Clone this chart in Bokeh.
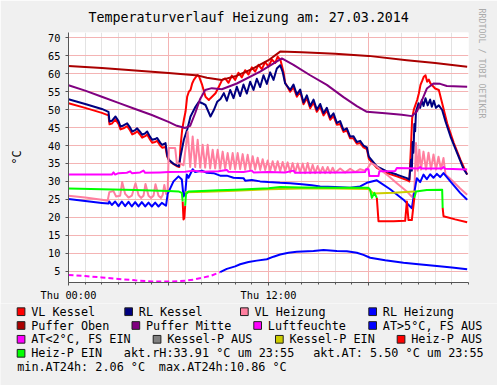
import math
from bokeh.plotting import figure
from bokeh.layouts import column, row
from bokeh.models import Range1d, FixedTicker, Title
from bokeh.core.properties import value
from bokeh.embed import file_html
from bokeh.resources import INLINE

FONT = "'DejaVu Sans Mono', monospace"

# ---------------- data (hours of the day, degrees / %) ----------------
vlk_h = [0, 1.0, 2.0, 2.4, 2.46, 2.6, 2.82, 3.0, 3.12, 3.3, 3.52, 3.7, 3.82, 4.0, 4.12, 4.3, 4.42, 4.6, 4.72, 4.9,
         5.02, 5.2, 5.32, 5.5, 5.62, 5.82, 5.92, 6.02, 6.22, 6.52, 6.65, 6.72, 6.82, 6.92, 7.02, 7.12, 7.22, 7.32,
         7.42, 7.52, 7.72, 7.82, 8.02, 8.22, 8.42, 8.52, 8.82, 9.02, 9.22, 9.4, 9.6, 9.8, 10.0, 10.2, 10.4, 10.6,
         10.8, 11.0, 11.2, 11.4, 11.6, 11.8, 12.0, 12.2, 12.4, 12.55, 12.72, 12.9, 13.0, 13.3, 13.5, 13.7, 13.9,
         14.1, 14.3, 14.5, 14.7, 14.9, 15.1, 15.3, 15.5, 15.7, 15.9, 16.1, 16.3, 16.5, 16.7, 16.9, 17.1, 17.3,
         17.5, 17.7, 17.9, 18.02, 18.5, 19.1, 19.7, 20.3, 20.45, 20.55, 20.62, 20.72, 20.92, 21.02, 21.12, 21.22,
         21.32, 21.42, 21.52, 21.62, 21.72, 22.0, 22.22, 22.42, 22.72, 23.12, 23.52, 23.92]
vlk_v = [51.8, 50.5, 49.1, 48.4, 45.9, 46.1, 47.3, 46.0, 44.5, 44.8, 45.4, 44.2, 43.1, 43.5, 44.0, 43.0, 42.2, 42.6,
         43.1, 41.6, 40.8, 41.0, 41.3, 40.0, 39.4, 39.6, 36.9, 36.0, 35.1, 34.2, 34.0, 39.7, 44.4, 47.1, 49.4, 53.6,
         55.0, 55.5, 57.3, 58.3, 59.6, 59.4, 56.9, 53.6, 52.7, 53.2, 54.6, 56.4, 58.3, 58.7, 57.5, 59.5, 58.3, 60.3,
         59.0, 61.0, 59.8, 61.8, 60.6, 62.5, 61.3, 63.3, 62.0, 64.0, 63.0, 64.8, 63.8, 60.5, 57.5, 55.0, 56.2, 53.6,
         55.0, 51.5, 53.2, 50.4, 52.0, 49.4, 50.8, 48.4, 49.8, 47.2, 48.2, 45.8, 46.0, 43.8, 44.2, 42.0, 42.0, 40.5,
         40.7, 39.5, 39.0, 36.3, 33.8, 32.3, 31.4, 30.4, 30.0, 40.0, 47.6, 50.0, 52.7, 54.5, 56.9, 58.0, 59.2, 59.6,
         57.8, 58.4, 57.3, 55.9, 55.5, 51.8, 46.2, 40.7, 36.0, 31.9]

rlk_h = [0, 1.0, 2.0, 2.4, 2.46, 2.6, 2.82, 3.0, 3.12, 3.3, 3.52, 3.7, 3.82, 4.0, 4.12, 4.3, 4.42, 4.6, 4.72, 4.9,
         5.02, 5.2, 5.32, 5.5, 5.62, 5.75, 5.82, 5.92, 6.02, 6.3, 6.62, 6.72, 6.92, 7.12, 7.32, 7.62, 7.82, 8.02,
         8.22, 8.52, 8.72, 8.92, 9.12, 9.32, 9.5, 9.7, 9.9, 10.1, 10.3, 10.5, 10.7, 10.9, 11.1, 11.3, 11.5, 11.7,
         11.9, 12.1, 12.3, 12.5, 12.7, 12.85, 13.0, 13.3, 13.5, 13.7, 13.9, 14.1, 14.3, 14.5, 14.7, 14.9, 15.1,
         15.3, 15.5, 15.7, 15.9, 16.1, 16.3, 16.5, 16.7, 16.9, 17.1, 17.3, 17.5, 17.7, 17.9, 18.02, 18.5, 19.1,
         19.7, 20.3, 20.45, 20.55, 20.6, 20.65, 20.7, 20.75, 20.8, 20.85, 21.0, 21.1, 21.2, 21.3, 21.42, 21.55,
         21.7, 21.8, 21.92, 22.05, 22.22, 22.42, 22.62, 22.92, 23.32, 23.72, 23.92]
rlk_v = [52.9, 51.6, 50.2, 49.4, 46.7, 46.9, 48.1, 46.8, 45.3, 45.6, 46.2, 45.0, 43.9, 44.3, 44.8, 43.8, 43.0, 43.4,
         43.9, 42.4, 41.6, 41.8, 42.1, 40.8, 40.2, 40.5, 40.7, 37.4, 36.0, 34.9, 34.2, 36.9, 41.6, 44.4, 48.1, 50.8,
         52.2, 51.8, 51.3, 48.1, 49.9, 52.2, 53.0, 54.6, 52.5, 55.5, 53.2, 56.4, 53.8, 57.0, 54.5, 57.8, 55.5, 58.6,
         56.3, 59.6, 57.2, 60.4, 58.3, 61.5, 62.4, 60.5, 57.3, 55.5, 57.0, 54.2, 55.6, 52.0, 54.0, 51.0, 52.8, 50.0,
         51.6, 49.0, 50.5, 47.8, 49.0, 46.3, 46.8, 44.3, 44.8, 42.5, 42.6, 41.0, 41.3, 40.0, 39.5, 36.9, 34.2, 32.8,
         31.9, 30.9, 30.5, 36.0, 33.0, 41.0, 38.0, 46.0, 44.0, 49.5, 51.8, 50.5, 52.7, 51.0, 53.2, 51.2, 52.8, 50.8,
         52.5, 50.5, 51.2, 49.9, 46.7, 42.5, 37.9, 33.3, 31.9]

vlh_h = [0, 1.0, 2.0, 2.35, 2.45, 2.7, 2.85, 3.1, 3.22, 3.4, 3.6, 3.8, 4.02, 4.2, 4.35, 4.5, 4.62, 4.8, 4.95, 5.1,
         5.22, 5.4, 5.55, 5.65, 5.75, 5.85, 5.95, 6.02, 6.4, 6.5, 6.7, 6.9, 7.05, 7.15, 7.3, 7.45, 7.6, 7.75, 7.9,
         8.05, 8.2, 8.35, 8.5, 8.65, 8.8, 8.95, 9.1, 9.25, 9.4, 9.55, 9.7, 9.85, 10.0, 10.15, 10.3, 10.45, 10.6,
         10.75, 10.9, 11.05, 11.2, 11.35, 11.5, 11.65, 11.8, 11.95, 12.1, 12.25, 12.4, 12.55, 12.7, 12.85, 13.0,
         13.15, 13.3, 13.45, 13.6, 13.75, 13.9, 14.05, 14.2, 14.35, 14.5, 14.65, 14.8, 14.95, 15.1, 15.25, 15.4,
         15.55, 15.7, 15.85, 16.0, 16.3, 16.6, 16.9, 17.2, 17.5, 17.8, 17.95, 18.15, 18.4, 18.7, 19.2, 19.7, 20.3,
         20.6, 20.75, 20.85, 20.95, 21.05, 21.15, 21.3, 21.45, 21.6, 21.75, 21.9, 22.05, 22.2, 22.35, 22.5, 22.62,
         23.0, 23.5, 23.92]
vlh_v = [26.0, 25.5, 24.9, 24.6, 27.0, 27.3, 25.8, 26.0, 29.8, 26.5, 25.5, 26.0, 29.5, 26.2, 25.4, 26.0, 29.3, 26.0,
         25.4, 26.0, 29.2, 26.0, 25.4, 26.2, 29.0, 26.5, 27.5, 39.3, 39.3, 35.1, 35.0, 34.5, 40.0, 43.9, 34.0, 42.5,
         34.0, 41.6, 33.8, 40.2, 33.8, 40.2, 33.6, 38.8, 33.6, 38.8, 33.5, 38.3, 33.5, 37.9, 33.4, 37.9, 33.4, 37.9,
         33.4, 37.6, 33.3, 37.4, 33.3, 37.0, 33.3, 36.6, 33.2, 36.2, 33.2, 35.8, 33.0, 35.6, 33.0, 35.6, 32.8, 35.4,
         32.8, 35.3, 32.5, 35.1, 32.5, 35.0, 32.4, 35.0, 32.3, 35.1, 32.3, 34.6, 32.3, 34.3, 32.3, 34.0, 32.3, 34.0,
         32.3, 33.8, 32.4, 33.6, 32.5, 33.5, 32.6, 33.4, 33.0, 33.7, 35.1, 34.5, 33.3, 31.5, 29.5, 27.2, 25.7, 27.0,
         40.7, 33.0, 38.8, 33.3, 38.3, 33.3, 38.0, 33.3, 37.5, 33.3, 36.9, 33.3, 36.5, 31.9, 30.3, 28.0, 26.3]

rlh_h = [0, 1.0, 2.0, 2.4, 2.45, 2.6, 2.8, 3.0, 3.2, 3.4, 3.6, 3.8, 4.0, 4.2, 4.4, 4.6, 4.8, 5.0, 5.2, 5.4, 5.6,
         5.85, 5.95, 6.3, 6.6, 6.8, 6.9, 7.0, 7.1, 7.2, 7.45, 7.6, 8.0, 8.3, 8.7, 9.1, 9.5, 9.9, 10.5, 10.6, 11.0,
         11.5, 12.0, 12.7, 13.3, 14.0, 14.6, 15.1, 16.0, 16.9, 17.5, 17.9, 18.5, 19.3, 20.1, 20.6, 20.75, 20.9,
         21.1, 21.3, 21.5, 21.7, 21.9, 22.1, 22.3, 22.5, 23.0, 23.5, 23.92]
rlh_v = [25.1, 24.5, 24.0, 23.8, 24.4, 23.4, 24.4, 23.1, 24.4, 23.1, 24.3, 23.0, 24.2, 23.0, 24.2, 23.0, 24.1, 23.0,
         24.1, 23.0, 24.0, 23.2, 26.5, 30.0, 31.4, 30.5, 25.8, 26.5, 31.9, 31.0, 33.4, 32.6, 33.0, 32.4, 32.3, 31.6,
         31.6, 31.0, 30.9, 30.2, 30.4, 30.0, 29.8, 29.6, 29.5, 29.2, 28.9, 28.6, 28.4, 28.2, 28.6, 29.6, 30.3, 27.8,
         24.9, 22.5, 27.0, 30.9, 29.8, 31.9, 30.6, 32.0, 31.0, 32.1, 31.2, 32.3, 29.5, 26.8, 24.9]

po_h = [0, 2.0, 4.0, 6.0, 7.8, 8.3, 9.2, 10.0, 11.0, 12.0, 12.7, 14.0, 16.0, 18.0, 20.3, 22.0, 23.92]
po_v = [62.2, 61.6, 60.9, 60.2, 59.5, 58.9, 58.3, 59.3, 61.3, 63.8, 66.2, 66.0, 65.6, 65.0, 63.8, 63.0, 62.0]

pm_h = [0, 1.0, 2.0, 3.0, 4.0, 5.0, 6.0, 6.5, 7.0, 7.3, 7.6, 7.9, 8.2, 8.6, 9.2, 10.1, 11.5, 12.8, 13.5, 14.5,
        15.5, 16.5, 17.3, 17.9, 19.0, 20.0, 20.6, 20.9, 21.2, 21.5, 21.9, 22.3, 22.7, 23.92]
pm_v = [56.8, 55.3, 53.6, 51.9, 50.2, 48.5, 46.6, 45.5, 44.9, 45.5, 49.0, 53.0, 55.5, 56.0, 55.7, 57.3, 60.6, 64.3,
        62.5, 59.6, 56.9, 53.5, 51.0, 49.4, 49.0, 48.6, 48.2, 49.5, 52.5, 55.9, 57.3, 57.2, 56.6, 56.4]

rh_h = [0, 2.6, 2.7, 2.8, 3.0, 3.5, 3.7, 3.8, 4.3, 4.5, 4.6, 5.5, 6.0, 7.0, 7.5, 8.0, 9.0, 9.5, 9.6, 10.5, 11.0,
        11.1, 12.0, 13.0, 13.5, 13.6, 15.0, 16.5, 17.8, 17.85, 18.0, 18.05, 18.6, 18.65, 19.6, 19.7, 21.0, 21.1,
        21.2, 22.4, 22.5, 22.6, 23.92]
rh_v = [31.9, 31.9, 32.5, 31.9, 32.3, 32.4, 32.8, 32.3, 32.5, 33.0, 32.4, 32.5, 32.6, 32.7, 33.0, 32.7, 32.8, 33.2,
        32.7, 32.6, 33.0, 32.5, 32.6, 32.5, 33.0, 32.4, 32.5, 32.5, 32.6, 33.4, 33.4, 31.5, 31.5, 32.8, 32.9, 33.7,
        33.6, 34.0, 33.6, 33.6, 34.0, 33.5, 33.3]

at_lo_h = [0, 1.0, 2.0, 3.0, 4.0, 5.0, 6.1, 7.0, 7.5, 8.0, 8.5, 9.1]
at_lo_v = [3.9, 3.6, 3.2, 2.8, 2.4, 2.1, 2.06, 2.3, 2.6, 3.1, 3.6, 4.7]
at_hi_h = [9.1, 9.5, 10.0, 10.3, 10.8, 11.3, 11.9, 12.3, 12.7, 13.2, 13.7, 14.7, 15.3, 16.1, 16.7, 17.3, 17.7,
           18.1, 19.0, 20.1, 21.0, 22.1, 23.0, 23.92]
at_hi_v = [4.7, 5.6, 6.3, 6.9, 7.5, 7.9, 8.3, 9.0, 9.6, 10.1, 10.4, 10.6, 10.86, 10.6, 10.5, 10.1, 9.5, 8.7, 8.0,
           7.3, 6.9, 6.4, 6.0, 5.5]

kp_ein_h = [7.0, 8.3, 10.0, 12.0, 14.0, 16.0, 18.0, 18.3, 19.5, 20.5, 20.8]
kp_ein_v = [27.0, 27.1, 27.4, 27.8, 28.0, 28.0, 27.9, 26.6, 26.8, 27.1, 27.2]

hp_ein_h = [[0, 2.0, 4.0, 6.0, 6.6, 6.8, 6.85],
            [7.0, 7.05, 7.2, 8.0, 9.0, 10.0, 11.0, 12.0, 12.7, 14.0, 16.0, 18.0, 18.1, 18.2, 18.35, 18.5],
            [20.75, 20.85, 21.5, 22.42, 22.45]]
hp_ein_v = [[28.0, 27.8, 27.6, 27.3, 27.2, 26.8, 24.4],
            [23.2, 26.5, 27.2, 27.3, 27.5, 27.7, 27.9, 28.1, 28.4, 28.3, 28.2, 28.2, 27.7, 25.4, 26.8, 25.4],
            [25.4, 27.2, 27.6, 27.7, 22.6]]
hp_aus_h = [[6.85, 6.9, 6.95, 7.0],
            [18.5, 18.6, 19.5, 20.2, 20.3, 20.4, 20.6, 20.75],
            [22.45, 22.5, 23.2, 23.92]]
hp_aus_v = [[24.4, 19.4, 19.8, 23.2],
            [25.4, 18.9, 18.9, 19.0, 24.4, 19.2, 19.2, 25.4],
            [22.6, 20.3, 19.4, 18.6]]

y_ticks = [5, 10, 15, 20, 25, 30, 35, 40, 45, 50, 55, 60, 65, 70]
x_tick_labels = {0: "Thu 00:00", 6: "", 12: "Thu 12:00", 18: ""}

title_text = "Temperaturverlauf Heizung am: 27.03.2014"
unit_text = "°C"
watermark_text = "RRDTOOL / TOBI OETIKER"

legend_rows = [
    [("VL Kessel", "#ff0000"), ("RL Kessel", "#000080"), ("VL Heizung", "#ff7f9f"), ("RL Heizung", "#0000ff")],
    [("Puffer Oben", "#aa0000"), ("Puffer Mitte", "#800080"), ("Luftfeuchte", "#ff00ff"), ("AT>5°C, FS AUS", "#0000ff")],
    [("AT<2°C, FS EIN", "#ff00ff"), ("Kessel-P AUS", "#808080"), ("Kessel-P EIN", "#cccc00"), ("Heiz-P AUS", "#ff0000")],
    [("Heiz-P EIN", "#00ff00")],
]
comments = ["akt.rH:33.91 °C um 23:55", "akt.AT: 5.50 °C um 23:55", "min.AT24h: 2.06 °C", "max.AT24h:10.86 °C"]

# ---------------- layout (styles) ----------------
W = 497
H1 = 303
H2 = 82
Y0, Y1 = 1.8, 71.52
FR_L, FR_T, FR_W, FR_H = 68, 32, 400, 251

p = figure(width=W, height=H1, x_range=Range1d(0, 24), y_range=Range1d(Y0, Y1),
           output_backend="svg", toolbar_location=None,
           min_border_left=FR_L, min_border_right=W - FR_L - FR_W, min_border_top=FR_T,
           min_border_bottom=H1 - FR_T - FR_H,
           background_fill_color="#ffffff", border_fill_color="#f0f0f0", outline_line_color=None)

# title and watermark
p.title = Title(text=title_text, align="left", offset=20, vertical_align="middle", standoff=13,
                text_font=FONT, text_font_size="13.3px", text_font_style="normal", text_color="#000000")
p.add_layout(Title(text=watermark_text, align="left", offset=-24, vertical_align="top", standoff=12,
                   text_font=FONT, text_font_size="8.3px", text_font_style="normal", text_color="#aaaaaa"), "right")

# grids
p.xgrid.ticker = FixedTicker(ticks=[0, 6, 12, 18, 24], minor_ticks=list(range(0, 25)))
p.xgrid.grid_line_color = "#f4b4b4"
p.xgrid.minor_grid_line_color = "#e3e3e3"
p.ygrid.ticker = FixedTicker(ticks=y_ticks)
p.ygrid.grid_line_color = "#f4b4b4"

# axes
AX = "#555555"
p.xaxis.ticker = FixedTicker(ticks=[0, 6, 12, 18], minor_ticks=list(range(0, 25)))
p.xaxis.major_label_overrides = x_tick_labels
p.yaxis.ticker = FixedTicker(ticks=y_ticks)
for ax in (p.xaxis[0], p.yaxis[0]):
    ax.axis_line_color = AX
    ax.major_tick_line_color = AX
    ax.minor_tick_line_color = AX
    ax.major_tick_in = 0
    ax.minor_tick_in = 0
    ax.major_label_text_font = FONT
    ax.major_label_text_font_size = "10.3px"
    ax.major_label_text_color = "#000000"
p.xaxis.major_tick_out = 3
p.xaxis.minor_tick_out = 2
p.xaxis.major_label_standoff = 3
p.yaxis.major_tick_out = 3
p.yaxis.minor_tick_line_color = None
p.yaxis.major_label_standoff = 5
p.yaxis.axis_label = unit_text
p.yaxis.axis_label_text_font = FONT
p.yaxis.axis_label_text_font_size = "11.8px"
p.yaxis.axis_label_text_font_style = "normal"
p.yaxis.axis_label_text_color = "#000000"
p.yaxis.axis_label_standoff = 21

LW = 2
p.line(vlk_h, vlk_v, line_color="#ff0000", line_width=LW, line_join="round")
p.line(rlk_h, rlk_v, line_color="#000080", line_width=LW, line_join="round")
p.line(vlh_h, vlh_v, line_color="#ff7f9f", line_width=LW, line_join="round")
p.line(rlh_h, rlh_v, line_color="#0000ff", line_width=LW, line_join="round")
p.line(po_h, po_v, line_color="#aa0000", line_width=LW, line_join="round")
p.line(pm_h, pm_v, line_color="#800080", line_width=LW, line_join="round")
p.line(rh_h, rh_v, line_color="#ff00ff", line_width=LW, line_join="round")
p.line(at_hi_h, at_hi_v, line_color="#0000ff", line_width=LW, line_join="round")
p.line(at_lo_h, at_lo_v, line_color="#ff00ff", line_width=LW, line_dash="5 3")
p.line(kp_ein_h, kp_ein_v, line_color="#cccc00", line_width=LW, line_join="round")
p.multi_line(hp_aus_h, hp_aus_v, line_color="#ff0000", line_width=LW, line_join="round")
p.multi_line(hp_ein_h, hp_ein_v, line_color="#00ff00", line_width=LW, line_join="round")

# ---------------- legend figure ----------------
q = figure(width=W, height=H2, x_range=Range1d(0, W), y_range=Range1d(H2, 0),
           output_backend="svg", toolbar_location=None, x_axis_location=None, y_axis_location=None,
           min_border=0, min_border_left=0, min_border_right=0, min_border_top=0, min_border_bottom=0,
           background_fill_color="#f0f0f0", border_fill_color="#f0f0f0", outline_line_color=None)
q.grid.visible = False

row_y_page = [311.2, 325.0, 338.8, 352.8, 366.7]
box_left_page = [[16.7, 124.3, 240.0, 368.3], [16.7, 131.5, 253.3, 368.3], [16.7, 152.7, 275.0, 396.7], [16.7]]
comment_pos_page = [(123.3, 3), (312.7, 3), (16.7, 4), (158.3, 4)]

bx, by, bc, tx, ty, tt = [], [], [], [], [], []
for r, items in enumerate(legend_rows):
    for (lab, col), bl in zip(items, box_left_page[r]):
        bx.append(bl + 3.85)
        by.append(row_y_page[r] - H1)
        bc.append(col)
        tx.append(bl + 14)
        ty.append(row_y_page[r] - H1)
        tt.append(lab)
for c, (px, r) in zip(comments, comment_pos_page):
    tx.append(px)
    ty.append(row_y_page[r] - H1)
    tt.append(c)

q.rect(x=bx, y=by, width=7.7, height=7.7, fill_color=bc, line_color="#202020", line_width=1)
q.text(x=tx, y=ty, text=tt, text_font=value(FONT), text_font_size="11.8px", text_align="left",
       text_baseline="middle", text_color="#000000")

layout = column(row(p, spacing=0), row(q, spacing=0), spacing=0)
open("out.html", "w").write(file_html(layout, INLINE))
